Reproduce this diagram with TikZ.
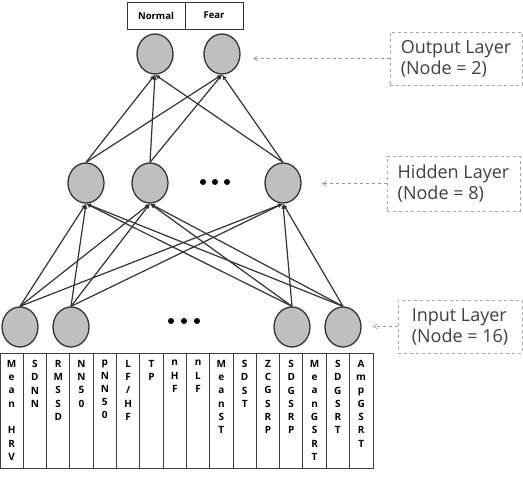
\documentclass[tikz,border=0pt]{standalone}
\usepackage{fontspec}
\setmainfont{Open Sans}
\usetikzlibrary{shapes.geometric, arrows.meta, positioning}

\begin{document}
\begin{tikzpicture}[
    x=1pt, y=-1pt,
    neuron/.style = {
        ellipse, draw=black!80, fill=black!25,
        line width=1.3pt, minimum width=36pt, minimum height=40pt,
        inner sep=0pt
    },
    link/.style = {-{Latex[length=5pt,width=4.5pt]}, line width=1.2pt, draw=black!80},
    layerbox/.style = {
        rectangle, draw=black!35, dashed, line width=0.7pt,
        align=left, text=black!75, font=\fontsize{18}{21}\selectfont
    },
    pointer/.style = {-{Straight Barb[length=4pt,width=5pt]}, dashed, line width=0.6pt, draw=black!40},
    classbox/.style = {
        rectangle, draw=black!80, line width=0.9pt,
        minimum width=58pt, minimum height=27pt,
        font=\fontsize{9.5}{10}\selectfont\bfseries
    },
    featlab/.style = {
        anchor=north, align=center, inner sep=0pt,
        font=\fontsize{10}{13.3}\selectfont\bfseries
    },
    grid/.style = {draw=black!75, line width=1pt},
]
\useasboundingbox (0,0) rectangle (523,477);

\node[classbox] (normal) at (156,15.5) {Normal};
\node[classbox, right=-0.9pt of normal] (fear) {Fear};

\node[neuron] (out1) at (155,54) {};
\node[neuron] (out2) at (222,54) {};

\node[neuron] (hid1) at (86,183) {};
\node[neuron] (hid2) at (150,183) {};
\node[neuron] (hid3) at (283,183) {};

\node[neuron] (in1) at (20,327) {};
\node[neuron] (in2) at (71,327) {};
\node[neuron] (in3) at (292,327) {};
\node[neuron] (in4) at (343,327) {};

\foreach \i in {0,1,2} {
    \fill (203+12*\i,182) circle (3pt);
    \fill (171+13*\i,321) circle (3pt);
}

\foreach \i in {1,...,4}
    \foreach \h in {1,2,3}
        \draw[link] (in\i.north) -- (hid\h.south);
\foreach \h in {1,2,3}
    \foreach \o in {1,2}
        \draw[link] (hid\h.north) -- (out\o.south);

\node[layerbox, minimum width=132pt, minimum height=53pt] (outlab) at (456,58.5)
    {Output Layer\\(Node = 2)};
\node[layerbox, minimum width=133pt, minimum height=55pt] (hidlab) at (453.5,183.5)
    {Hidden Layer\\(Node = 8)};
\node[layerbox, minimum width=124pt, minimum height=53pt] (inlab) at (460,326.5)
    {Input Layer\\(Node = 16)};

\coordinate (outtip) at (253,58.5);
\coordinate (hidtip) at (322,183.5);
\coordinate (intip) at (373,326.5);
\draw[pointer] (outlab) -- (outtip);
\draw[pointer] (hidlab) -- (hidtip);
\draw[pointer] (inlab) -- (intip);

\draw[grid] (0.5,353) rectangle (373,468);
\foreach \i in {1,...,15}
    \draw[grid] (23.3*\i,353) -- (23.3*\i,468);

\foreach \i/\txt in {
    1/{M\\e\\a\\n\\~\\H\\R\\V}, 2/{S\\D\\N\\N}, 3/{R\\M\\S\\S\\D},
    4/{N\\N\\5\\0}, 5/{p\\N\\N\\5\\0}, 6/{L\\F\\/\\H\\F},
    7/{T\\P}, 8/{n\\H\\F}, 9/{n\\L\\F},
    10/{M\\e\\a\\n\\S\\T}, 11/{S\\D\\S\\T}, 12/{Z\\C\\G\\S\\R\\P},
    13/{S\\D\\G\\S\\R\\P}, 14/{M\\e\\a\\n\\G\\S\\R\\T},
    15/{S\\D\\G\\S\\R\\T}, 16/{A\\m\\p\\G\\S\\R\\T}}
    \node[featlab] (feat\i) at (23.3*\i-11.65,360) {\txt};

\end{tikzpicture}
\end{document}
